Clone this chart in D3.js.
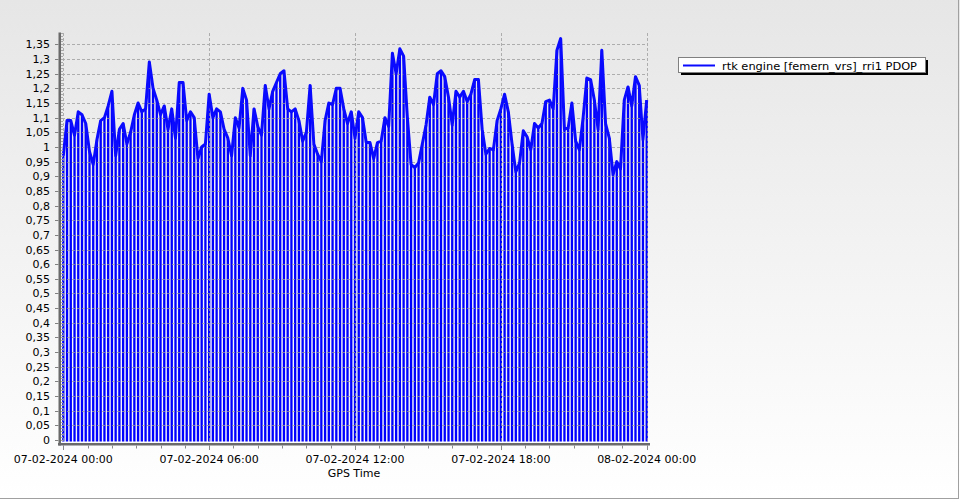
<!DOCTYPE html>
<html><head><meta charset="utf-8">
<script src="https://cdn.jsdelivr.net/npm/d3@7"></script>
<style>html,body{margin:0;padding:0;background:#fff}svg{display:block}text{font-family:"DejaVu Sans",Verdana,sans-serif}</style>
</head><body>
<svg id="chart" width="960" height="500"></svg>
<script>
// ---- data ----
const seriesName = "rtk engine [femern_vrs]_rri1 PDOP";
const startTime = new Date(2024, 1, 7, 0, 0);
const endTime = new Date(2024, 1, 8, 0, 0);
const pdopValues = [
 0.97,1.09,1.09,1.04,1.12,1.11,1.08,0.985,0.94,1.025,
 1.09,1.10,1.14,1.19,0.97,1.06,1.08,1.01,1.05,1.11,
 1.15,1.12,1.13,1.29,1.20,1.16,1.11,1.14,1.06,1.13,
 1.03,1.22,1.22,1.09,1.12,1.10,0.96,1.00,1.01,1.18,
 1.10,1.13,1.12,1.06,1.03,0.97,1.10,1.065,1.20,1.16,
 0.97,1.13,1.07,1.04,1.21,1.13,1.19,1.22,1.25,1.26,
 1.13,1.12,1.13,1.09,1.02,1.05,1.21,1.01,0.975,0.95,
 1.09,1.15,1.145,1.20,1.20,1.13,1.08,1.12,1.03,1.12,
 1.10,1.015,1.015,0.96,1.015,1.02,1.10,1.07,1.32,1.25,
 1.335,1.31,1.10,0.94,0.93,0.945,1.01,1.075,1.17,1.145,
 1.25,1.26,1.24,1.17,1.075,1.19,1.17,1.19,1.155,1.18,
 1.23,1.23,1.06,0.975,0.995,0.99,1.09,1.13,1.18,1.12,
 1.01,0.915,0.945,1.055,1.035,0.99,1.08,1.065,1.08,1.155,
 1.16,1.13,1.33,1.37,1.06,1.065,1.15,1.02,0.99,1.10,
 1.235,1.23,1.16,1.06,1.33,1.08,1.03,0.905,0.95,0.925,
 1.16,1.205,1.14,1.24,1.21,1.025,1.16
];
const yMajorTicks = [0,0.05,0.1,0.15,0.2,0.25,0.3,0.35,0.4,0.45,0.5,0.55,0.6,0.65,0.7,0.75,0.8,0.85,0.9,0.95,1,1.05,1.1,1.15,1.2,1.25,1.3,1.35];
const xTitle = "GPS Time";

// ---- layout ----
const svg = d3.select("#chart");
const W = 960, H = 500;
const defs = svg.append("defs");
const grad = defs.append("linearGradient").attr("id","bg").attr("x1",0).attr("y1",0).attr("x2",0).attr("y2",1);
grad.append("stop").attr("offset","0%").attr("stop-color","#e6e6e6");
grad.append("stop").attr("offset","100%").attr("stop-color","#ffffff");
svg.append("rect").attr("width",W).attr("height",H).attr("fill","url(#bg)");
// outer border (right & bottom)
svg.append("line").attr("x1",958.5).attr("x2",958.5).attr("y1",0).attr("y2",499).attr("stroke","#a0a0a0");
svg.append("line").attr("x1",0).attr("x2",959).attr("y1",498.5).attr("y2",498.5).attr("stroke","#a0a0a0");

const x = d3.scaleTime().domain([startTime, endTime]).range([63.3, 646.7]);
const y = d3.scaleLinear().domain([0, 1.39]).range([440, 32.7]);
const stepMs = (endTime - startTime) / (pdopValues.length - 1);
const data = pdopValues.map((v, i) => ({t: new Date(+startTime + i * stepMs), v}));

// light underlay behind bars (gaps look pale in reference)
svg.append("rect").attr("x",62).attr("y",y(0.9)).attr("width",586).attr("height",y(0)-y(0.9)+1.5)
  .attr("fill","#f4f4fb");

// bars
svg.append("g").selectAll("rect").data(data).join("rect")
  .attr("x", d => x(d.t) - 1.15).attr("width", 2.3)
  .attr("y", d => y(d.v)).attr("height", d => y(0) - y(d.v) + 1.5)
  .attr("fill", "#0000ff");

// grid
const grid = svg.append("g").attr("stroke","#9a9a9a").attr("stroke-dasharray","3,2").attr("stroke-width",1).attr("opacity",0.75);
yMajorTicks.filter(t => t > 0).forEach(t => {
  grid.append("line").attr("x1",62).attr("x2",647).attr("y1",Math.round(y(t))+0.5).attr("y2",Math.round(y(t))+0.5);
});
const xMajor = x.ticks(d3.timeHour.every(6));
xMajor.forEach(t => {
  grid.append("line").attr("x1",Math.round(x(t))+0.5).attr("x2",Math.round(x(t))+0.5).attr("y1",33).attr("y2",442);
});

// line
svg.append("path").datum(data)
  .attr("d", d3.line().x(d => x(d.t)).y(d => y(d.v)))
  .attr("fill","none").attr("stroke","#0a0aff").attr("stroke-width",3).attr("stroke-linejoin","round");

// left axis
svg.append("rect").attr("x",58.5).attr("y",32.5).attr("width",2.5).attr("height",413).attr("fill","#6a6a6a");
const yMinor = d3.range(0, 1.391, 0.01);
svg.append("g").selectAll("line").data(yMinor).join("line")
  .attr("x1",61).attr("x2",63).attr("y1",d=>Math.round(y(d))+0.5).attr("y2",d=>Math.round(y(d))+0.5)
  .attr("stroke","#a8a8a8");
svg.append("g").selectAll("line").data(yMajorTicks).join("line")
  .attr("x1",55).attr("x2",58.5).attr("y1",d=>Math.round(y(d))+0.5).attr("y2",d=>Math.round(y(d))+0.5)
  .attr("stroke","#808080");
const fmtY = d => String(+d.toFixed(2)).replace(".", ",");
svg.append("g").selectAll("text").data(yMajorTicks).join("text")
  .attr("x",50).attr("y",d=>y(d)+4).attr("text-anchor","end")
  .attr("font-size","11px").attr("fill","#000").text(fmtY);

// bottom axis
svg.append("rect").attr("x",58).attr("y",443).attr("width",592).attr("height",2.5).attr("fill","#6a6a6a");
const xMinor = d3.timeMinute.every(90).range(startTime, d3.timeMinute.offset(endTime,1));
svg.append("g").selectAll("line").data(xMinor).join("line")
  .attr("x1",d=>Math.round(x(d))+0.5).attr("x2",d=>Math.round(x(d))+0.5).attr("y1",445.5).attr("y2",448.5)
  .attr("stroke","#8a8a8a");
svg.append("g").selectAll("line").data(xMajor).join("line")
  .attr("x1",d=>Math.round(x(d))+0.5).attr("x2",d=>Math.round(x(d))+0.5).attr("y1",445.5).attr("y2",450)
  .attr("stroke","#8a8a8a");
const fmtX = d3.timeFormat("%d-%m-%Y %H:%M");
svg.append("g").selectAll("text").data(xMajor).join("text")
  .attr("x",d=>x(d)).attr("y",463).attr("text-anchor","middle")
  .attr("font-size","11px").attr("fill","#000").text(fmtX);
svg.append("text").attr("x",354).attr("y",477).attr("text-anchor","middle")
  .attr("font-size","11px").attr("fill","#000").text(xTitle);

// legend
const lg = svg.append("g");
lg.append("rect").attr("x",681).attr("y",60).attr("width",247).attr("height",15).attr("fill","#000");
lg.append("rect").attr("x",678.5).attr("y",57.5).attr("width",247).attr("height",15).attr("fill","#fff").attr("stroke","#808080");
lg.append("line").attr("x1",683).attr("x2",715).attr("y1",65.5).attr("y2",65.5).attr("stroke","#0a0aff").attr("stroke-width",2);
lg.append("text").attr("x",722).attr("y",69.5).attr("font-size","11px").attr("fill","#000")
  .attr("textLength",195).attr("lengthAdjust","spacingAndGlyphs").text(seriesName);
</script>
</body></html>
